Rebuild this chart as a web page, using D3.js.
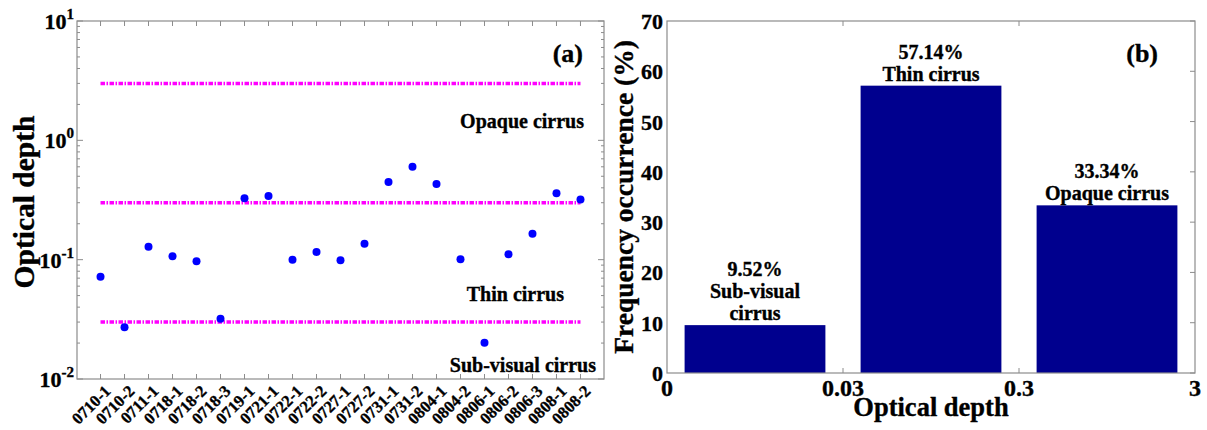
<!DOCTYPE html>
<html>
<head>
<meta charset="utf-8">
<script src="https://cdn.jsdelivr.net/npm/d3@7"></script>
<style>
  body { margin: 0; background: #fff; }
  svg { display: block; }
  text { font-family: "Liberation Serif", "Times New Roman", serif; font-weight: bold; fill: #000;
         stroke: #000; stroke-width: 0.35px; }
</style>
</head>
<body>
<svg id="chart" width="1207" height="430"></svg>
<script>
// Panel (a): optical depth of each cirrus case
const cases = ["0710-1","0710-2","0711-1","0718-1","0718-2","0718-3","0719-1","0721-1","0722-1","0722-2",
  "0727-1","0727-2","0731-1","0731-2","0804-1","0804-2","0806-1","0806-2","0806-3","0808-1","0808-2"];
const opticalDepth = [0.072,0.0272,0.128,0.107,0.097,0.032,0.327,0.341,0.100,0.116,
  0.099,0.136,0.447,0.602,0.430,0.1006,0.0201,0.111,0.165,0.360,0.320];
const thresholds = [3, 0.3, 0.03];
const classLabels = [
  {text: "Opaque cirrus", value: 1.27},
  {text: "Thin cirrus", value: 0.045},
  {text: "Sub-visual cirrus", value: 0.0114}
];
const yExponents = [-2, -1, 0, 1];

// Panel (b): frequency of occurrence per class
const classes = ["Sub-visual cirrus", "Thin cirrus", "Opaque cirrus"];
const frequency = [9.52, 57.14, 33.34];
const barLines = [["9.52%", "Sub-visual", "cirrus"], ["57.14%", "Thin cirrus"], ["33.34%", "Opaque cirrus"]];
const bounds = ["0", "0.03", "0.3", "3"];
const freqTicks = [0, 10, 20, 30, 40, 50, 60, 70];

const svg = d3.select("#chart");
const axisColor = "#8c8c8c";

// ---------- Panel (a) ----------
const A = {left: 77, right: 604, top: 21, bottom: 379};
const xA = d3.scalePoint().domain(cases).range([A.left, A.right]).padding(0.98);
const yA = d3.scaleLog().domain([0.01, 10]).range([A.bottom, A.top]);
const gA = svg.append("g");

gA.append("rect").attr("x", A.left).attr("y", A.top)
  .attr("width", A.right - A.left).attr("height", A.bottom - A.top)
  .attr("fill", "none").attr("stroke", axisColor).attr("stroke-width", 1.2);

// category ticks, top and bottom, pointing inward
cases.forEach(c => {
  const x = xA(c);
  gA.append("line").attr("x1", x).attr("x2", x).attr("y1", A.bottom).attr("y2", A.bottom - 5).attr("stroke", axisColor);
  gA.append("line").attr("x1", x).attr("x2", x).attr("y1", A.top).attr("y2", A.top + 5).attr("stroke", axisColor);
});

// log ticks on both vertical sides
const logTicks = [];
for (let e = -2; e < 1; e++) for (let m = 1; m < 10; m++) logTicks.push({v: m * Math.pow(10, e), major: m === 1});
logTicks.push({v: 10, major: true});
logTicks.forEach(t => {
  const y = yA(t.v), len = t.major ? 6 : 3;
  gA.append("line").attr("x1", A.left).attr("x2", A.left + len).attr("y1", y).attr("y2", y).attr("stroke", axisColor);
  gA.append("line").attr("x1", A.right).attr("x2", A.right - len).attr("y1", y).attr("y2", y).attr("stroke", axisColor);
});

// y tick labels as 10^n
yExponents.forEach(e => {
  const t = gA.append("text").attr("x", A.left - 3).attr("y", yA(Math.pow(10, e)) + 8)
    .attr("text-anchor", "end").style("font-size", "22px");
  t.append("tspan").text("10");
  t.append("tspan").attr("dy", -10).style("font-size", "15px").text(e);
});

// category labels
cases.forEach(c => {
  gA.append("text")
    .attr("transform", `translate(${xA(c) + 7},${A.bottom + 9}) rotate(-45)`)
    .attr("text-anchor", "end").attr("dy", "0.35em")
    .style("font-size", "16.5px").text(c);
});

// threshold lines
thresholds.forEach(v => {
  gA.append("line").attr("x1", xA(cases[0])).attr("x2", xA(cases[cases.length - 1]))
    .attr("y1", yA(v)).attr("y2", yA(v))
    .attr("stroke", "#ff00ff").attr("stroke-width", 3.5)
    .attr("stroke-dasharray", "4.5,1.5,1.5,1.5");
});

// data points
gA.selectAll("circle.pt").data(cases).enter().append("circle")
  .attr("cx", d => xA(d)).attr("cy", (d, i) => yA(opticalDepth[i]))
  .attr("r", 4).attr("fill", "#0000ff");

// class labels
const classX = [584, 564, 596];
classLabels.forEach((c, i) => {
  gA.append("text").attr("x", classX[i]).attr("y", yA(c.value))
    .attr("text-anchor", "end").style("font-size", "20px").text(c.text);
});

gA.append("text").attr("x", 583).attr("y", 62).attr("text-anchor", "end").style("font-size", "26px").text("(a)");

gA.append("text").attr("transform", `translate(34,${(A.top + A.bottom) / 2 + 2}) rotate(-90)`)
  .attr("text-anchor", "middle").style("font-size", "29.5px").text("Optical depth");

// ---------- Panel (b) ----------
const B = {left: 667, right: 1195, top: 21, bottom: 373};
const xB = d3.scaleBand().domain(classes).range([B.left, B.right]).paddingInner(0.2).paddingOuter(0.1);
const xBounds = d3.scalePoint().domain(bounds).range([B.left, B.right]);
const yB = d3.scaleLinear().domain([0, 70]).range([B.bottom, B.top]);
const gB = svg.append("g");

gB.selectAll("rect.bar").data(classes).enter().append("rect")
  .attr("x", d => xB(d)).attr("width", xB.bandwidth())
  .attr("y", (d, i) => yB(frequency[i])).attr("height", (d, i) => B.bottom - yB(frequency[i]))
  .attr("fill", "#00008e");

gB.append("rect").attr("x", B.left).attr("y", B.top)
  .attr("width", B.right - B.left).attr("height", B.bottom - B.top)
  .attr("fill", "none").attr("stroke", axisColor).attr("stroke-width", 1.2);

// inner boundary ticks
bounds.slice(1, -1).forEach(b => {
  const x = xBounds(b);
  gB.append("line").attr("x1", x).attr("x2", x).attr("y1", B.bottom).attr("y2", B.bottom - 5).attr("stroke", axisColor);
  gB.append("line").attr("x1", x).attr("x2", x).attr("y1", B.top).attr("y2", B.top + 5).attr("stroke", axisColor);
});
freqTicks.forEach(v => {
  const y = yB(v);
  gB.append("line").attr("x1", B.right).attr("x2", B.right - 5).attr("y1", y).attr("y2", y).attr("stroke", axisColor);
  gB.append("text").attr("x", B.left - 4).attr("y", y + 8).attr("text-anchor", "end")
    .style("font-size", "22px").text(v);
});
bounds.forEach(b => {
  gB.append("text").attr("x", xBounds(b)).attr("y", B.bottom + 23).attr("text-anchor", "middle")
    .style("font-size", "24px").text(b);
});

// bar annotations
classes.forEach((c, i) => {
  const lines = barLines[i];
  const top = yB(frequency[i]);
  lines.forEach((s, j) => {
    gB.append("text").attr("x", xB(c) + xB.bandwidth() / 2)
      .attr("y", top - 5 - (lines.length - 1 - j) * 22)
      .attr("text-anchor", "middle").style("font-size", "20px").text(s);
  });
});

gB.append("text").attr("x", 1158).attr("y", 62).attr("text-anchor", "end").style("font-size", "26px").text("(b)");

gB.append("text").attr("transform", `translate(633,${(B.top + B.bottom) / 2}) rotate(-90)`)
  .attr("text-anchor", "middle").style("font-size", "27.5px").text("Frequency occurrence (%)");

gB.append("text").attr("x", (B.left + B.right) / 2).attr("y", 416).attr("text-anchor", "middle")
  .style("font-size", "26.5px").text("Optical depth");
</script>
</body>
</html>
